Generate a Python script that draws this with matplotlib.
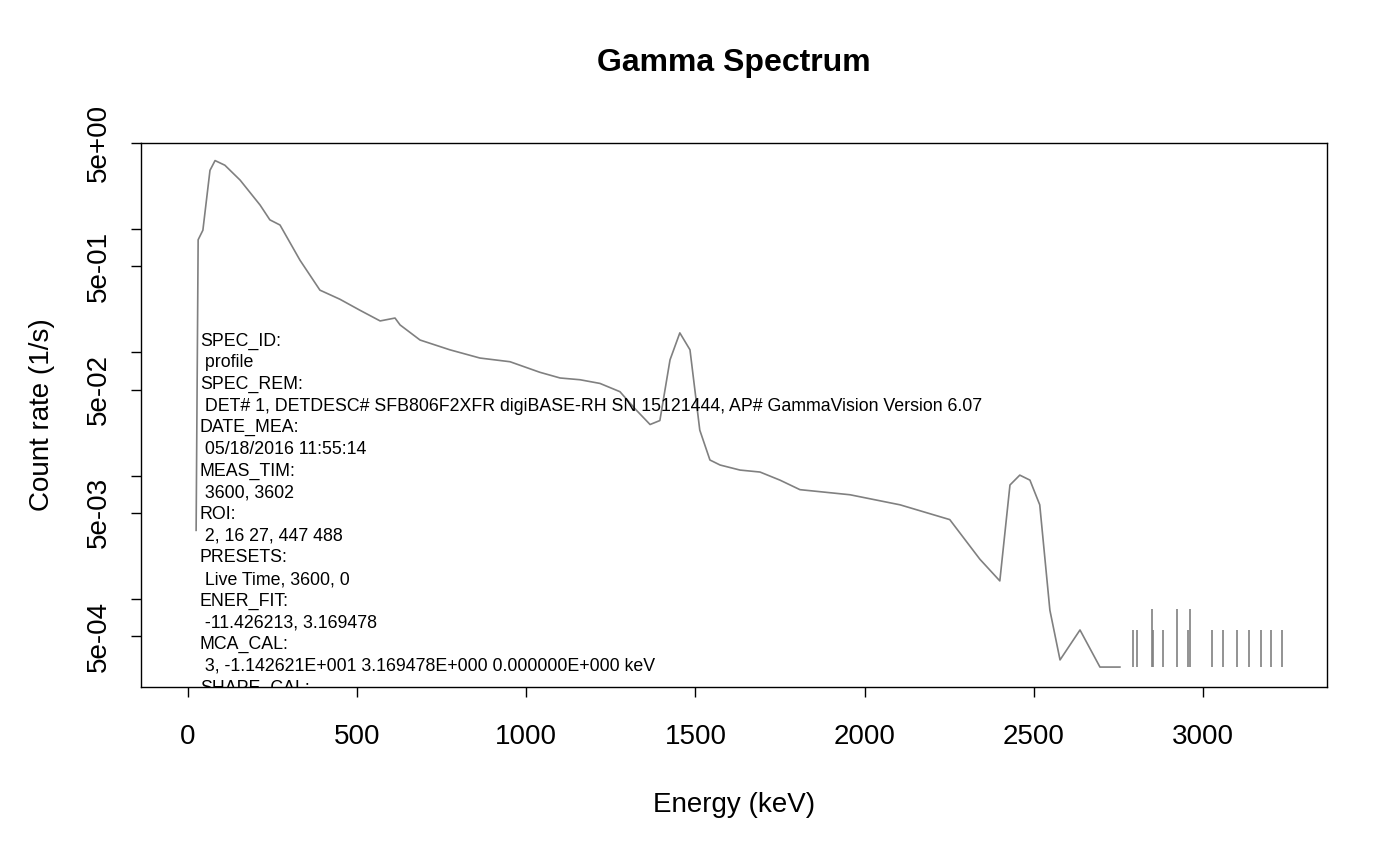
import matplotlib
matplotlib.use('Agg')
import matplotlib.pyplot as plt
import numpy as np

plt.rcParams['font.family'] = ['Liberation Sans', 'DejaVu Sans']

# spectrum (keV, counts/s)
energy = [24, 30, 44, 65, 80, 109, 154, 213, 242, 272, 331, 390, 449, 508, 568,
          612, 627, 686, 774, 863, 952, 1040, 1100, 1159, 1218, 1277, 1321, 1366,
          1395, 1425, 1454, 1484, 1513, 1543, 1573, 1632, 1691, 1750, 1809, 1957,
          2105, 2252, 2341, 2400, 2430, 2459, 2489, 2518, 2548, 2578, 2637, 2696, 2755]
rate = [3.6e-3, 0.82, 0.98, 3.0, 3.6, 3.3, 2.5, 1.57, 1.19, 1.08, 0.56, 0.32, 0.27,
        0.22, 0.18, 0.19, 0.167, 0.126, 0.105, 0.090, 0.084, 0.069, 0.062, 0.060,
        0.056, 0.048, 0.035, 0.026, 0.028, 0.087, 0.144, 0.105, 0.0234, 0.0134,
        0.0122, 0.0111, 0.0107, 0.0092, 0.0077, 0.0070, 0.0058, 0.0044, 0.0021,
        0.0014, 0.0084, 0.0101, 0.0092, 0.0058, 8.1e-4, 3.2e-4, 5.6e-4, 2.8e-4, 2.8e-4]

# isolated high-energy counts
spike_e = [2793, 2805, 2849, 2852, 2882, 2923, 2956, 2962, 3027, 3059, 3101, 3136,
           3172, 3201, 3234]
spike_r = [5.6e-4, 5.6e-4, 8.3e-4, 5.6e-4, 5.6e-4, 8.3e-4, 5.6e-4, 8.3e-4, 5.6e-4,
           5.6e-4, 5.6e-4, 5.6e-4, 5.6e-4, 5.6e-4, 5.6e-4]
floor = 2.78e-4

header = ["SPEC_ID:", " profile", "SPEC_REM:",
          " DET# 1, DETDESC# SFB806F2XFR digiBASE-RH SN 15121444, AP# GammaVision Version 6.07",
          "DATE_MEA:", " 05/18/2016 11:55:14", "MEAS_TIM:", " 3600, 3602", "ROI:",
          " 2, 16 27, 447 488", "PRESETS:", " Live Time, 3600, 0", "ENER_FIT:",
          " -11.426213, 3.169478", "MCA_CAL:",
          " 3, -1.142621E+001 3.169478E+000 0.000000E+000 keV", "SHAPE_CAL:"]

fig = plt.figure(figsize=(14, 8.65), dpi=100)
ax = fig.add_axes([0.1007, 0.2058, 0.8471, 0.6289])
ax.plot(energy, rate, color='#808080', lw=1.2)
ax.vlines(spike_e, floor, spike_r, color='#808080', lw=1.2)
ax.set_yscale('log')
ax.set_xlim(-139, 3367)
ax.set_ylim(1.93e-4, 5.0)

ax.set_xticks([0, 500, 1000, 1500, 2000, 2500, 3000])
yt = [5e-4, 1e-3, 5e-3, 1e-2, 5e-2, 1e-1, 5e-1, 1, 5]
ax.set_yticks(yt)
ax.set_yticklabels(['5e-04', '', '5e-03', '', '5e-02', '', '5e-01', '', '5e+00'],
                   rotation=90, va='center')
ax.minorticks_off()
ax.tick_params(labelsize=20, length=7, width=1)
ax.tick_params(axis='x', pad=20)
ax.tick_params(axis='y', pad=14)
for s in ax.spines.values():
    s.set_linewidth(1)

ax.set_title('Gamma Spectrum', fontsize=23, fontweight='bold', pad=52)
ax.set_xlabel('Energy (keV)', fontsize=20, labelpad=30)
ax.set_ylabel('Count rate (1/s)', fontsize=20, labelpad=22)

for i, line in enumerate(header):
    ax.text(35, 1 - (341 - 143 + i * 21.7) / 544, line,
            transform=ax.get_xaxis_transform(), fontsize=12.8,
            va='center', clip_on=True)

fig.savefig('out.png', dpi=100)
